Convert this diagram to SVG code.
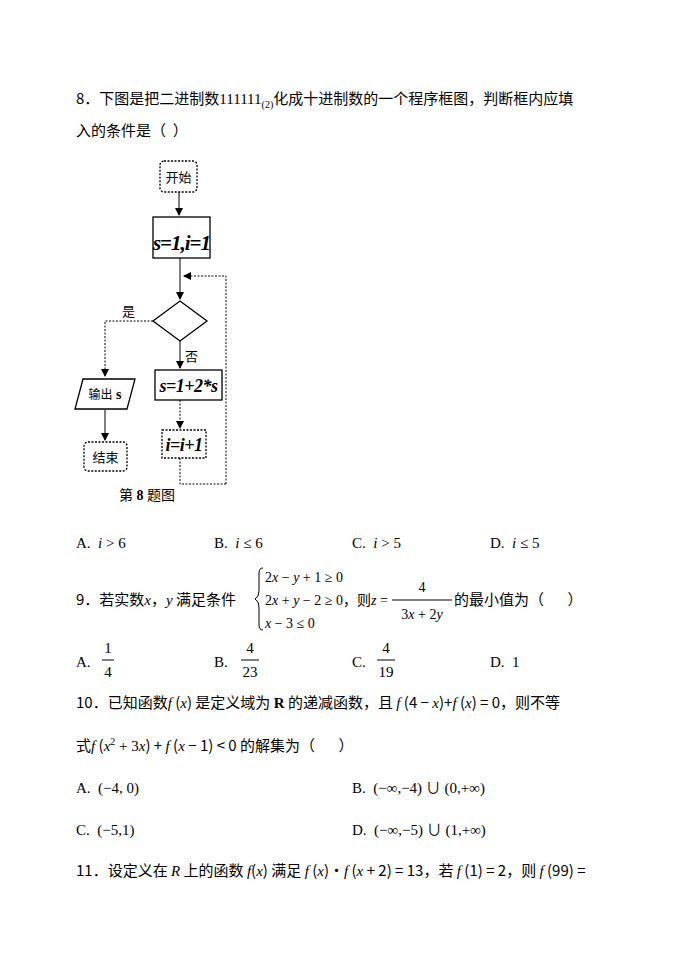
<svg xmlns="http://www.w3.org/2000/svg" width="688" height="971" viewBox="0 0 688 971">
<style>
svg{font-family:"Liberation Serif","Noto Sans CJK SC",serif;font-size:15px}
text{fill:#000;white-space:pre}
.c{font-family:"Noto Sans CJK SC",sans-serif}
.m{font-style:italic}
.b{font-weight:bold}
.sh{fill:#fff;stroke:#000;stroke-width:1.3}
.d{stroke-dasharray:2 1.5}
.ln{fill:none;stroke:#000;stroke-width:1}
</style>
<defs><marker id="a" markerWidth="8" markerHeight="8" refX="7" refY="4" orient="auto"><path d="M0,0L8,4L0,8z" fill="#000"/></marker></defs>
<rect width="688" height="971" fill="#fff"/>
<text x="76" y="104" class="c">8．下图是把二进制数<tspan font-family="Liberation Serif">111111</tspan><tspan font-size="10" dy="4" font-family="Liberation Serif">(2)</tspan><tspan dy="-4">化成十进制数的一个程序框图，判断框内应填</tspan></text>
<text x="76" y="136" class="c">入的条件是（  ）</text>
<g id="connectors" class="ln">
<path d="M179,192V215" marker-end="url(#a)"/>
<path d="M180,258V299" marker-end="url(#a)"/>
<path d="M226,484V276H184" class="d" marker-end="url(#a)"/>
<path d="M153,321H105V376" class="d" marker-end="url(#a)"/>
<path d="M105,410V440" marker-end="url(#a)"/>
<path d="M180,341V368" marker-end="url(#a)"/>
<path d="M180,400V428" class="d" marker-end="url(#a)"/>
<path d="M180,458V484H226" class="d"/>
</g>
<g id="start"><rect x="160" y="161" width="37" height="31" rx="4" class="sh d"/><text x="178.5" y="182" text-anchor="middle" class="c" font-size="13">开始</text></g>
<g id="init"><rect x="153" y="217" width="57" height="41" class="sh"/><text x="181.5" y="250" text-anchor="middle" class="m b" font-size="21" letter-spacing="-1">s=1,i=1</text></g>
<g id="cond"><path d="M180,301L207,321L180,341L153,321Z" class="sh"/></g>
<text x="122" y="316" class="c" font-size="13">是</text>
<text x="185" y="361" class="c" font-size="13">否</text>
<g id="out"><path d="M83,379H135L127,409H75Z" class="sh"/><text x="105" y="399" text-anchor="middle" class="c" font-size="12">输出<tspan class="b" font-family="Liberation Serif" font-size="14"> s</tspan></text></g>
<g id="end"><rect x="84" y="442" width="43" height="29" rx="4" class="sh d"/><text x="105.5" y="462" text-anchor="middle" class="c" font-size="13">结束</text></g>
<g id="update"><rect x="155" y="370" width="67" height="30" class="sh"/><text x="188.5" y="392" text-anchor="middle" class="m b" font-size="18" letter-spacing="-0.5">s=1+2*s</text></g>
<g id="inc"><rect x="162" y="430" width="44" height="28" class="sh d"/><text x="184" y="451" text-anchor="middle" class="m b" font-size="18" letter-spacing="-0.5">i=i+1</text></g>
<text x="119" y="500" class="c" font-size="14">第<tspan class="b" font-family="Liberation Serif"> 8 </tspan>题图</text>
<text x="76" y="548">A.  <tspan class="m">i</tspan> &gt; 6</text>
<text x="214" y="548">B.  <tspan class="m">i</tspan> ≤ 6</text>
<text x="352" y="548">C.  <tspan class="m">i</tspan> &gt; 5</text>
<text x="490" y="548">D.  <tspan class="m">i</tspan> ≤ 5</text>
<text x="76" y="605" class="c">9．若实数<tspan class="m" font-family="Liberation Serif">x</tspan>，<tspan class="m" font-family="Liberation Serif">y</tspan> 满足条件</text>
<path d="M263,568q-4,0 -4,5v18q0,6 -4,8q4,2 4,8v18q0,5 4,5" class="ln"/>
<text x="265" y="582" font-size="14">2<tspan class="m">x</tspan> − <tspan class="m">y</tspan> + 1 ≥ 0</text>
<text x="265" y="605" font-size="14">2<tspan class="m">x</tspan> + <tspan class="m">y</tspan> − 2 ≥ 0<tspan class="c">，则</tspan><tspan class="m">z</tspan> =</text>
<text x="265" y="628" font-size="14"><tspan class="m">x</tspan> − 3 ≤ 0</text>
<text x="422" y="592" text-anchor="middle" font-size="14">4</text>
<path d="M392,600H452" class="ln"/>
<text x="422" y="619" text-anchor="middle" font-size="14">3<tspan class="m">x</tspan> + 2<tspan class="m">y</tspan></text>
<text x="454" y="605" class="c">的最小值为（       ）</text>
<text x="76" y="667">A.</text><text x="108" y="653" text-anchor="middle">1</text><path d="M102,660H114" class="ln"/><text x="108" y="677" text-anchor="middle">4</text>
<text x="214" y="667">B.</text><text x="250" y="653" text-anchor="middle">4</text><path d="M241,660H259" class="ln"/><text x="250" y="677" text-anchor="middle">23</text>
<text x="352" y="667">C.</text><text x="386" y="653" text-anchor="middle">4</text><path d="M377,660H395" class="ln"/><text x="386" y="677" text-anchor="middle">19</text>
<text x="490" y="667">D.  1</text>
<text x="76" y="708" class="c">10．已知函数<tspan class="m" font-family="Liberation Serif">f</tspan> (<tspan class="m" font-family="Liberation Serif">x</tspan>) 是定义域为 <tspan font-weight="bold" font-family="Liberation Serif">R</tspan> 的递减函数，且 <tspan class="m" font-family="Liberation Serif">f</tspan> (4 − <tspan class="m" font-family="Liberation Serif">x</tspan>)+<tspan class="m" font-family="Liberation Serif">f</tspan> (<tspan class="m" font-family="Liberation Serif">x</tspan>) = 0，则不等</text>
<text x="76" y="751" class="c">式<tspan class="m" font-family="Liberation Serif">f</tspan> (<tspan class="m" font-family="Liberation Serif">x</tspan><tspan font-size="10" dy="-6" font-family="Liberation Serif">2</tspan><tspan dy="6" font-family="Liberation Serif"> + 3</tspan><tspan class="m" font-family="Liberation Serif">x</tspan>) + <tspan class="m" font-family="Liberation Serif">f</tspan> (<tspan class="m" font-family="Liberation Serif">x</tspan> − 1) &lt; 0 的解集为（       ）</text>
<text x="76" y="793">A.  (−4, 0)</text>
<text x="352" y="793">B.  (−∞,−4) ∪ (0,+∞)</text>
<text x="76" y="835">C.  (−5,1)</text>
<text x="352" y="835">D.  (−∞,−5) ∪ (1,+∞)</text>
<text x="76" y="876" class="c">11．设定义在 <tspan class="m" font-family="Liberation Serif">R</tspan> 上的函数 <tspan class="m" font-family="Liberation Serif">f</tspan>(<tspan class="m" font-family="Liberation Serif">x</tspan>) 满足 <tspan class="m" font-family="Liberation Serif">f</tspan> (<tspan class="m" font-family="Liberation Serif">x</tspan>)·<tspan class="m" font-family="Liberation Serif">f</tspan> (<tspan class="m" font-family="Liberation Serif">x</tspan> + 2) = 13，若 <tspan class="m" font-family="Liberation Serif">f</tspan> (1) = 2，则 <tspan class="m" font-family="Liberation Serif">f</tspan> (99) =</text>
</svg>
